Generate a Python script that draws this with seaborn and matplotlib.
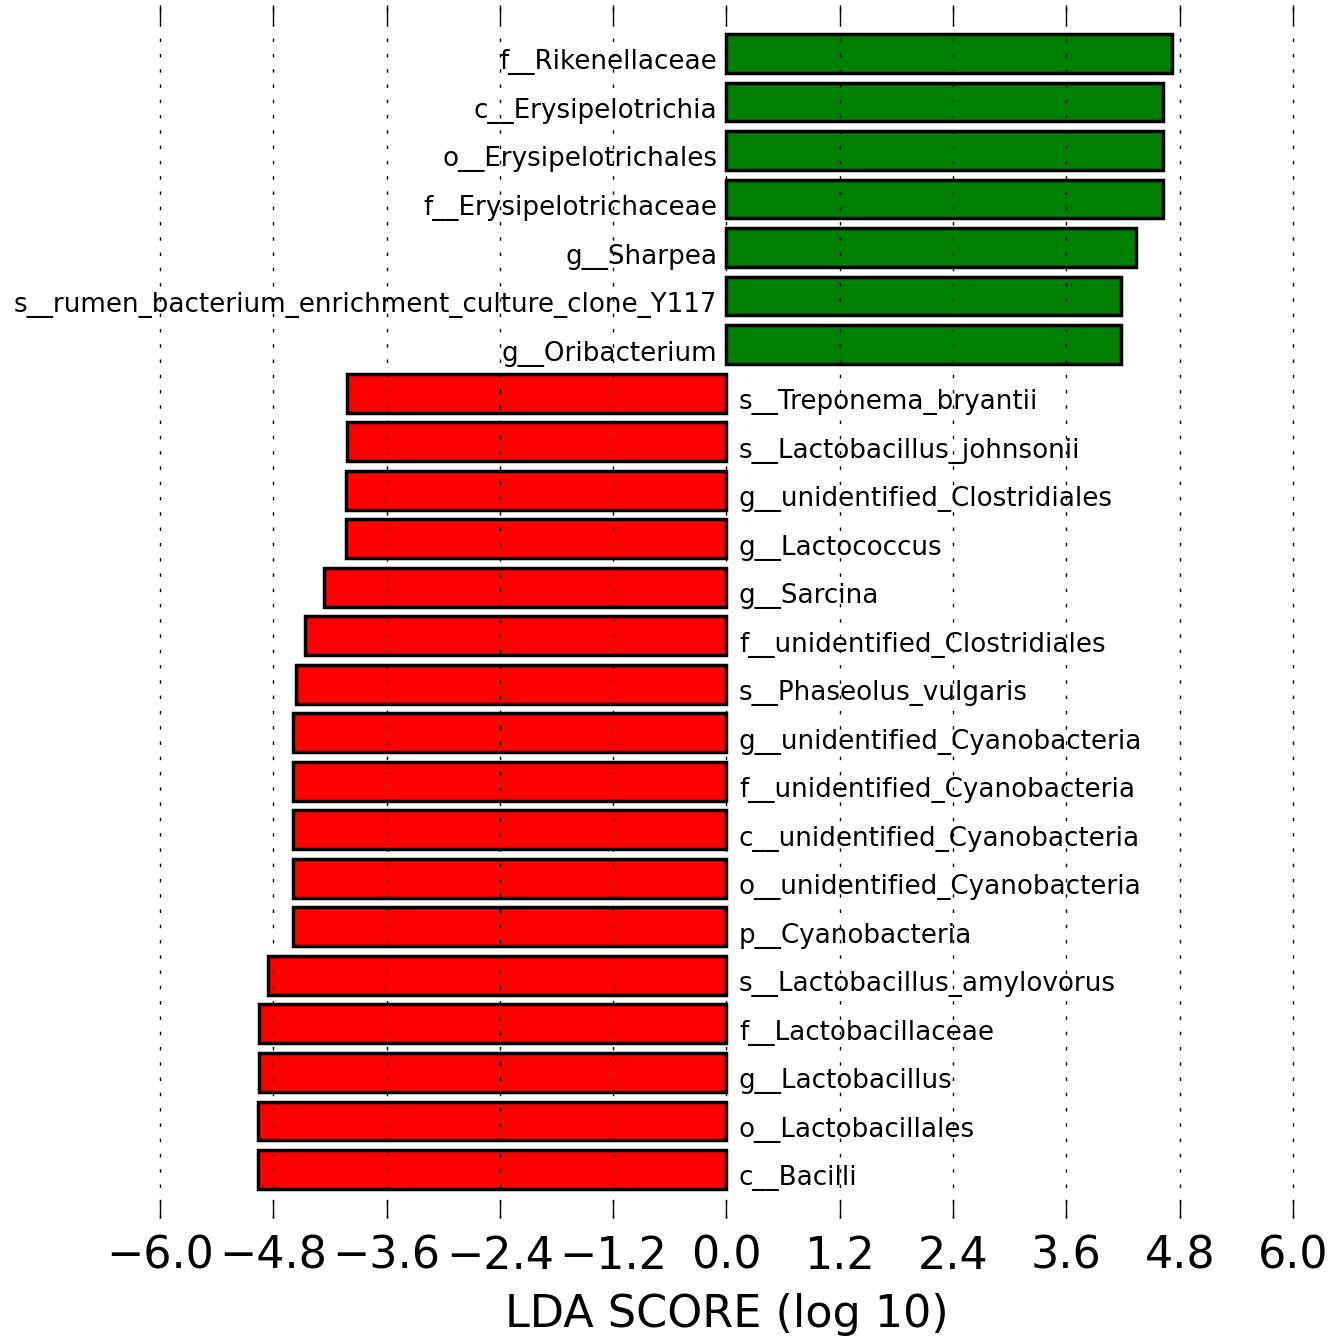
import matplotlib
matplotlib.use("Agg")
import matplotlib.pyplot as plt
import seaborn as sns

names = [
    "f__Rikenellaceae", "c__Erysipelotrichia", "o__Erysipelotrichales",
    "f__Erysipelotrichaceae", "g__Sharpea",
    "s__rumen_bacterium_enrichment_culture_clone_Y117", "g__Oribacterium",
    "s__Treponema_bryantii", "s__Lactobacillus_johnsonii",
    "g__unidentified_Clostridiales", "g__Lactococcus", "g__Sarcina",
    "f__unidentified_Clostridiales", "s__Phaseolus_vulgaris",
    "g__unidentified_Cyanobacteria", "f__unidentified_Cyanobacteria",
    "c__unidentified_Cyanobacteria", "o__unidentified_Cyanobacteria",
    "p__Cyanobacteria", "s__Lactobacillus_amylovorus", "f__Lactobacillaceae",
    "g__Lactobacillus", "o__Lactobacillales", "c__Bacilli",
]
scores = [
    4.72, 4.62, 4.62, 4.62, 4.34, 4.18, 4.18,
    -4.02, -4.02, -4.03, -4.03, -4.26, -4.46, -4.56,
    -4.59, -4.59, -4.59, -4.59, -4.59, -4.86, -4.95, -4.95, -4.96, -4.96,
]
ticks = [-6.0, -4.8, -3.6, -2.4, -1.2, 0.0, 1.2, 2.4, 3.6, 4.8, 6.0]

colors = {n: ("#008000" if s > 0 else "#ff0000") for n, s in zip(names, scores)}

sns.set_style("white")
plt.rcParams["font.family"] = ["DejaVu Sans"]
plt.rcParams["text.color"] = "black"
plt.rcParams["axes.labelcolor"] = "black"
plt.rcParams["xtick.color"] = "black"

fig = plt.figure(figsize=(13.43, 13.39), dpi=100)
ax = fig.add_axes([0.1191, 0.0904, 0.8437, 0.9059])

sns.barplot(x=scores, y=names, hue=names, palette=colors, order=names,
            edgecolor="black", linewidth=2.5, saturation=1, legend=False,
            width=0.8, ax=ax)

# labels sit next to the zero line, baseline slightly below bar centre
for i, (n, s) in enumerate(zip(names, scores)):
    if s > 0:
        ax.annotate(n, (0, i), xytext=(-6.8, -11.5), textcoords="offset points",
                    ha="right", va="baseline", fontsize=18.8)
    else:
        ax.annotate(n, (0, i), xytext=(9, -11.5), textcoords="offset points",
                    ha="left", va="baseline", fontsize=18.8)

ax.set_xlim(-6, 6)
ax.set_ylim(len(names), -1)
ax.set_xticks(ticks)
ax.set_xticklabels([f"{t:.1f}".replace("-", "\u2212") for t in ticks])
ax.set_yticks([])
ax.set_ylabel("")
for sp in ax.spines.values():
    sp.set_visible(False)
ax.tick_params(axis="x", direction="in", top=True, bottom=True,
               length=13, width=1, color="black", labelsize=32, pad=12)
ax.xaxis.grid(True, linestyle=(0, (2.5, 8.5)), color="black", linewidth=1)
for gl in ax.get_xgridlines():
    gl.set_clip_on(False)
ax.set_axisbelow(False)
ax.set_xlabel("LDA SCORE (log 10)", fontsize=32, labelpad=11)

plt.savefig("out.png", dpi=100)
